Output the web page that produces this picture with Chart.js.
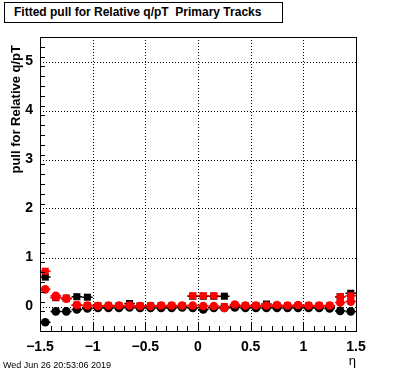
<!DOCTYPE html>
<html>
<head>
<meta charset="utf-8">
<script src="https://cdn.jsdelivr.net/npm/chart.js@4.4.0/dist/chart.umd.min.js"></script>
<style>
body{margin:0;background:#fff;}
#wrap{position:relative;width:396px;height:372px;}
#title{position:absolute;left:4px;top:2px;width:279px;height:21px;box-sizing:border-box;border:1px solid #000;background:#fff;
  font:bold 12px "Liberation Sans",Arial,sans-serif;line-height:19px;padding-left:9px;white-space:pre;}
#date{position:absolute;left:3px;top:360px;font:9px "Liberation Sans",Arial,sans-serif;}
</style>
</head>
<body>
<div id="wrap">
<canvas id="myChart" width="396" height="372"></canvas>
<div id="title">Fitted pull for Relative q/pT  Primary Tracks</div>
<div id="date">Wed Jun 26 20:53:06 2019</div>
</div>
<script>
// eta bin centres (bin width 0.1)
var etaBins = [-1.45,-1.35,-1.25,-1.15,-1.05,-0.95,-0.85,-0.75,-0.65,-0.55,
               -0.45,-0.35,-0.25,-0.15,-0.05, 0.05, 0.15, 0.25, 0.35, 0.45,
                0.55, 0.65, 0.75, 0.85, 0.95, 1.05, 1.15, 1.25, 1.35, 1.45];
var binHalf = 0.05;

var blackSquares = [0.60,0.18,0.17,0.20,0.19,0.01,0.01,0.01,0.06,0.01,
                    0.01,0.01,0.01,0.01,0.21,0.21,0.21,0.21,0.01,0.01,
                    0.01,0.05,0.01,0.01,0.01,0.01,0.01,0.01,0.20,0.27];
var redSquares   = [0.72,0.19,0.16,0.03,0.02,0.01,0.01,0.01,0.01,0.01,
                    0.01,0.01,0.01,0.01,0.22,0.22,0.22,0.00,0.01,0.01,
                    0.01,0.01,0.01,0.01,0.01,0.01,0.01,0.01,0.20,0.22];
var blackCircles = [-0.32,-0.10,-0.10,-0.06,-0.04,-0.03,-0.03,-0.03,-0.02,-0.03,
                    -0.03,-0.03,-0.03,-0.02,-0.03,-0.06,-0.03,-0.03,-0.02,-0.03,
                    -0.03,-0.03,-0.03,-0.03,-0.03,-0.03,-0.03,-0.04,-0.09,-0.10];
var redCircles   = [0.35,0.22,0.16,0.03,0.02,0.01,0.02,0.02,0.02,0.01,
                    0.01,0.02,0.02,0.02,0.02,0.01,0.01,-0.03,0.04,0.02,
                    0.02,0.02,0.03,0.02,0.03,0.02,0.02,0.02,0.08,0.10];
var pullErr      = [0.06,0.04,0.03,0.03,0.02,0.02,0.02,0.02,0.02,0.02,
                    0.02,0.02,0.02,0.02,0.02,0.02,0.02,0.02,0.02,0.02,
                    0.02,0.02,0.02,0.02,0.02,0.02,0.02,0.03,0.04,0.06];

var xTicks = [-1.5,-1,-0.5,0,0.5,1,1.5];
var yTicks = [0,1,2,3,4,5];
var xMinor = 0.1, yMinor = 0.2;
var yTitle = 'pull for Relative q/pT';

function pts(vals){
    return etaBins.map(function(x,i){ return {x:x, y:vals[i], e:pullErr[i]}; });
}
function fmt(v){
    var s = String(Math.round(v*10)/10);
    return s.replace('-', '\u2212');
}

// ROOT-like frame: dotted grid, box, inward ticks, error bars
var rootFrame = {
    id:'rootFrame',
    beforeDatasetsDraw: function(chart){
        var c = chart.ctx, a = chart.chartArea, xs = chart.scales.x, ys = chart.scales.y;
        c.save();
        c.strokeStyle = '#000'; c.lineWidth = 1; c.setLineDash([1,2]);
        xTicks.forEach(function(v){
            if (v <= xs.min || v >= xs.max) return;
            var px = Math.round(xs.getPixelForValue(v)) + 0.5;
            c.beginPath(); c.moveTo(px,a.top); c.lineTo(px,a.bottom); c.stroke();
        });
        yTicks.forEach(function(v){
            var py = Math.round(ys.getPixelForValue(v)) + 0.5;
            c.beginPath(); c.moveTo(a.left,py); c.lineTo(a.right,py); c.stroke();
        });
        c.setLineDash([]);
        // error bars
        chart.data.datasets.slice().reverse().forEach(function(ds){
            c.strokeStyle = ds.backgroundColor; c.lineWidth = 1.5;
            ds.data.forEach(function(p){
                var px = xs.getPixelForValue(p.x), py = ys.getPixelForValue(p.y);
                c.beginPath();
                c.moveTo(xs.getPixelForValue(p.x-binHalf),py); c.lineTo(xs.getPixelForValue(p.x+binHalf),py);
                c.moveTo(px,ys.getPixelForValue(p.y-p.e)); c.lineTo(px,ys.getPixelForValue(p.y+p.e));
                c.stroke();
            });
        });
        c.restore();
    },
    afterDatasetsDraw: function(chart){
        var c = chart.ctx, a = chart.chartArea, xs = chart.scales.x, ys = chart.scales.y;
        c.save();
        c.strokeStyle = '#000'; c.lineWidth = 1;
        c.strokeRect(Math.round(a.left)+0.5, Math.round(a.top)+0.5, Math.round(a.right-a.left), Math.round(a.bottom-a.top));
        c.beginPath();
        for (var i = 0; i <= 30; i++){
            var v = xs.min + i*xMinor;
            var px = Math.round(xs.getPixelForValue(v)) + 0.5;
            var len = (i % 5 === 0) ? 9 : 5;
            c.moveTo(px,a.bottom); c.lineTo(px,a.bottom-len);
        }
        for (var j = 0; j <= 30; j++){
            var w = ys.min + j*yMinor;
            var py = Math.round(ys.getPixelForValue(w)) + 0.5;
            var len2 = (Math.abs(w - Math.round(w)) < 1e-6) ? 9 : 5;
            c.moveTo(a.left,py); c.lineTo(a.left+len2,py);
        }
        c.stroke();
        // y axis title, right-aligned near the top like ROOT
        c.translate(16, a.top + 8);
        c.rotate(-Math.PI/2);
        c.fillStyle = '#000';
        c.font = 'bold 13px "Liberation Sans", Arial, sans-serif';
        c.textAlign = 'right'; c.textBaseline = 'middle';
        c.fillText(yTitle, 0, 0);
        c.restore();
    }
};

Chart.defaults.font.family = '"Liberation Sans", Arial, sans-serif';
Chart.defaults.color = '#000';

var ctx = document.getElementById('myChart').getContext('2d');
var myChart = new Chart(ctx, {
    type: 'scatter',
    data: {
        datasets: [
            {label:'red circles',   data:pts(redCircles),   pointStyle:'circle', pointRadius:4.3, backgroundColor:'#ff0000', borderColor:'#ff0000', borderWidth:0},
            {label:'black circles', data:pts(blackCircles), pointStyle:'circle', pointRadius:4.3, backgroundColor:'#000000', borderColor:'#000000', borderWidth:0},
            {label:'red squares',   data:pts(redSquares),   pointStyle:'rect',   pointRadius:5,   backgroundColor:'#ff0000', borderColor:'#ff0000', borderWidth:0},
            {label:'black squares', data:pts(blackSquares), pointStyle:'rect',   pointRadius:5,   backgroundColor:'#000000', borderColor:'#000000', borderWidth:0}
        ]
    },
    options: {
        responsive: false,
        animation: false,
        layout: { padding: { left:0, right:40, top:37, bottom:0 } },
        plugins: { legend:{display:false}, tooltip:{enabled:false} },
        scales: {
            x: {
                type:'linear', min:-1.5, max:1.5,
                afterFit: function(s){ s.height = 41; },
                afterBuildTicks: function(s){ s.ticks = xTicks.map(function(v){ return {value:v}; }); },
                grid: { display:false, drawTicks:false },
                border: { display:false },
                ticks: { font:{size:14, weight:'bold'}, padding:8, maxRotation:0, autoSkip:false, callback:function(v){ return fmt(v); } },
                title: { display:true, text:'\u03B7', align:'end', font:{size:13}, padding:{top:0,bottom:3} }
            },
            y: {
                type:'linear', min:-0.5, max:5.5,
                afterFit: function(s){ s.width = 40; },
                afterBuildTicks: function(s){ s.ticks = yTicks.map(function(v){ return {value:v}; }); },
                grid: { display:false, drawTicks:false },
                border: { display:false },
                ticks: { font:{size:14, weight:'bold'}, padding:7, callback:function(v){ return fmt(v); } }
            }
        }
    },
    plugins: [rootFrame]
});
</script>
</body>
</html>
